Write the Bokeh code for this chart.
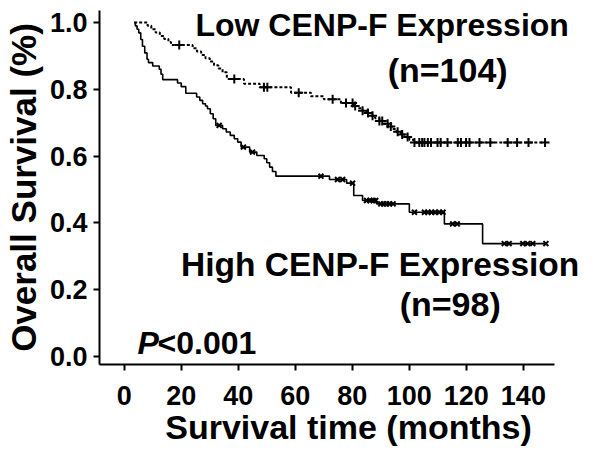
import numpy as np
from bokeh.plotting import figure
from bokeh.models import Label, Range1d, FixedTicker
from bokeh.embed import file_html
from bokeh.resources import INLINE

# Low CENP-F expression (n=104): step times (months) and survival
low_t = [3.5, 8.2, 9.5, 11.0, 12.5, 14.0, 15.5, 16.4, 24.0, 25.5, 27.0, 28.5, 30.0,
         31.5, 33.0, 34.5, 36.0, 42.0, 47.5, 58.5, 65.5, 70.0, 76.0, 80.5, 82.0,
         83.5, 85.0, 86.5, 88.0, 89.5, 91.0, 92.5, 94.0, 95.5, 97.0, 98.5, 100.0,
         101.5, 148.0]
low_s = [1.0, 0.990, 0.980, 0.970, 0.960, 0.951, 0.942, 0.933, 0.923, 0.913, 0.903,
         0.893, 0.883, 0.872, 0.862, 0.851, 0.831, 0.817, 0.806, 0.790, 0.779, 0.770,
         0.759, 0.750, 0.743, 0.736, 0.729, 0.721, 0.713, 0.705, 0.697, 0.689, 0.681,
         0.673, 0.665, 0.657, 0.649, 0.641, 0.641]
low_cens = [19.3, 38.6, 49.0, 50.2, 61.2, 73.1, 77.8, 80.1, 81.0, 83.6, 85.5, 87.1,
            89.5, 90.5, 92.4, 93.5, 95.9, 97.5, 99.4, 101.8, 103.5, 104.5, 105.3,
            106.5, 107.6, 109.9, 111.0, 113.4, 117.0, 118.1, 119.9, 121.1, 124.6,
            128.4, 134.5, 137.8, 141.8, 147.6]

# High CENP-F expression (n=98)
high_t = [3.5, 3.9, 4.5, 5.1, 5.8, 6.4, 7.2, 8.0, 8.5, 10.0, 12.3, 12.9, 13.5, 18.7,
          20.0, 21.6, 25.4, 26.5, 27.5, 28.5, 29.2, 30.2, 31.2, 32.1, 34.5, 35.8,
          37.2, 38.6, 39.8, 41.0, 44.0, 46.5, 49.1, 50.0, 51.0, 52.0, 53.2, 72.0,
          78.0, 80.5, 83.6, 88.5, 100.0, 112.3, 125.7, 148.0]
high_s = [1.0, 0.990, 0.980, 0.969, 0.949, 0.929, 0.909, 0.890, 0.880, 0.870, 0.860,
          0.845, 0.829, 0.819, 0.808, 0.788, 0.777, 0.767, 0.757, 0.750, 0.742, 0.727,
          0.712, 0.692, 0.682, 0.672, 0.662, 0.652, 0.642, 0.627, 0.612, 0.602, 0.592,
          0.580, 0.567, 0.554, 0.540, 0.530, 0.519, 0.482, 0.467, 0.457, 0.432, 0.397,
          0.338, 0.338]
high_cens = [33.3, 41.8, 45.0, 69.0, 74.8, 76.6, 80.1, 85.0, 86.2, 87.3, 88.2, 90.0,
             91.0, 92.0, 93.0, 94.3, 101.8, 105.3, 106.5, 107.8, 109.0, 110.5, 111.8,
             115.2, 116.8, 133.3, 135.0, 139.8, 141.5, 143.3, 147.9]

x_ticks = [0, 20, 40, 60, 80, 100, 120, 140]
y_ticks = [0.0, 0.2, 0.4, 0.6, 0.8, 1.0]


def surv_at(ts, ss, c):
    ts = np.asarray(ts)
    ss = np.asarray(ss)
    idx = np.searchsorted(ts, np.asarray(c), side="right") - 1
    return ss[idx]


X0, X1 = -8.67, 150.9
p = figure(width=592, height=455, output_backend="svg", toolbar_location=None,
           x_range=Range1d(X0, 166.0), y_range=Range1d(-0.024, 1.036))
p.frame_width = 498
p.frame_height = 354
p.min_border_left = 94
p.min_border_right = 0
p.min_border_top = 10
p.min_border_bottom = 91
p.outline_line_color = None
p.grid.visible = False
p.background_fill_color = "white"
p.border_fill_color = "white"

AX_FONT = "Liberation Sans"

for ax in (p.xaxis[0], p.yaxis[0]):
    ax.axis_line_width = 2
    ax.axis_line_color = "black"
    ax.major_tick_line_width = 2
    ax.major_tick_line_color = "black"
    ax.major_tick_out = 6
    ax.major_tick_in = 0
    ax.minor_tick_line_color = None
    ax.major_label_text_font = AX_FONT
    ax.major_label_text_font_style = "bold"
    ax.major_label_text_font_size = "27px"
    ax.major_label_text_color = "black"
    ax.axis_label_text_font = AX_FONT
    ax.axis_label_text_font_style = "bold"
    ax.axis_label_text_color = "black"

p.xaxis.bounds = (X0, X1)
p.xaxis.axis_label_text_font_size = "34px"
p.yaxis.axis_label_text_font_size = "35px"
p.xaxis.ticker = FixedTicker(ticks=x_ticks)
p.yaxis.ticker = FixedTicker(ticks=y_ticks)
p.yaxis.major_label_overrides = {v: f"{v:.1f}" for v in y_ticks}
p.xaxis.axis_label = "Survival time (months)"
p.yaxis.axis_label = "Overall Survival (%)"
p.xaxis.major_label_standoff = 15
p.yaxis.major_label_standoff = 6
p.xaxis.axis_label_standoff = 0
p.yaxis.axis_label_standoff = 4

# curves
p.step(low_t, low_s, mode="after", line_color="black", line_width=2, line_dash="3 2")
p.step(high_t, high_s, mode="after", line_color="black", line_width=1.6)

p.scatter(low_cens, surv_at(low_t, low_s, low_cens), marker="cross", size=9,
          line_color="black", line_width=2)
p.scatter(high_cens, surv_at(high_t, high_s, high_cens), marker="x", size=7,
          line_color="black", line_width=2)

ANN_FONT = "Liberation Sans"
def lab(x, y, text, size="32px", style="bold"):
    p.add_layout(Label(x=x, y=y, text=text, text_font=ANN_FONT, text_font_size=size,
                       text_font_style=style, text_color="black",
                       text_baseline="alphabetic", text_align="left"))

lab(25.0, 0.994, "Low CENP-F Expression")
lab(92.4, 0.859, "(n=104)", size="34px")
lab(19.9, 0.2755, "High CENP-F Expression", size="33.5px")
lab(96.6, 0.156, "(n=98)", size="34px")
lab(4.7, 0.039, "P", size="32px", style="bold italic")
lab(11.7, 0.039, "<0.001", size="32px")

open("out.html", "w").write(file_html(p, INLINE))
